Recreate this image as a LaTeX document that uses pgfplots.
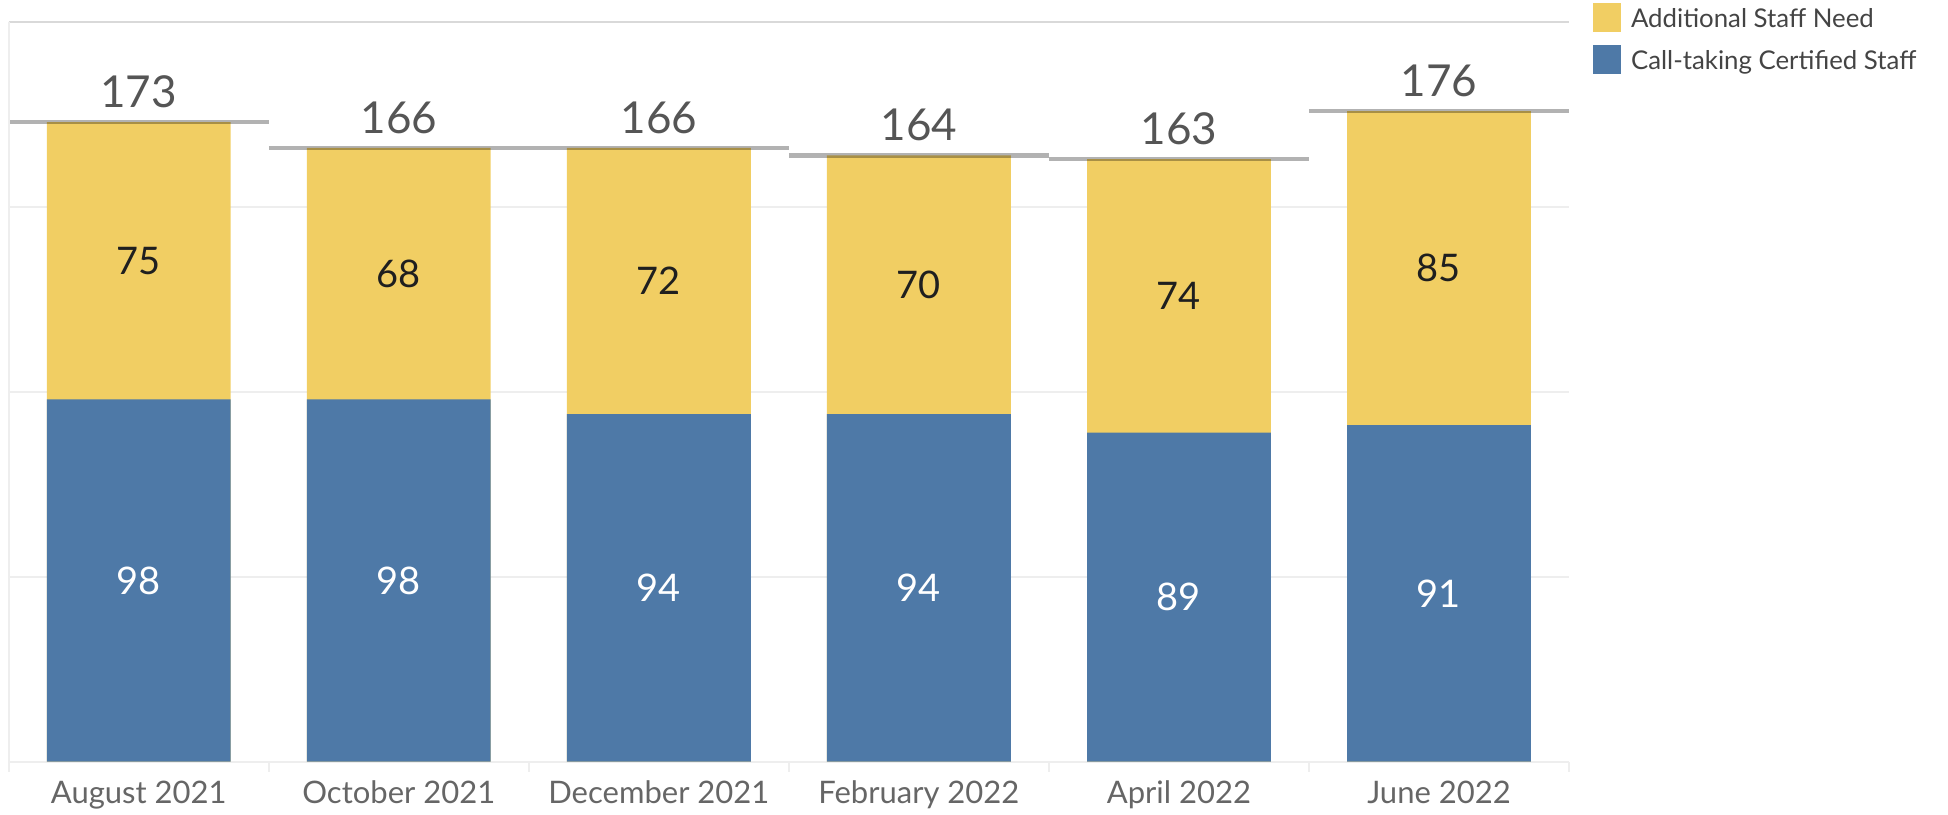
\documentclass[border=0pt]{standalone}
\usepackage{fontspec}
\setmainfont{Lato}
\usepackage{pgfplots}
\usepackage{pgfplotstable}
\pgfplotsset{compat=1.18}
\definecolor{tblue}{HTML}{4E79A7}
\definecolor{tyellow}{HTML}{F1CE63}
\definecolor{lblgray}{HTML}{555555}
\definecolor{tickgray}{HTML}{666666}
\definecolor{legtext}{HTML}{444444}
\definecolor{gridgray}{HTML}{EEEEEE}
\definecolor{topgray}{HTML}{D9D9D9}
\pgfplotsset{sqlegend/.style={legend image code/.code={\path[##1] (0pt,-2.45pt) rectangle (14pt,12.05pt);}}}

\pgfplotstableread{
x blue yellow total
0 98 75 173
1 98 68 166
2 94 72 166
3 94 70 164
4 89 74 163
5 91 85 176
}\datatable

\begin{document}
\begin{tikzpicture}
\path[use as bounding box] (0,0) rectangle (974pt,407pt);
\begin{axis}[
  at={(4.35pt,26.25pt)}, anchor=south west,
  scale only axis, width=780.15pt, height=369.6pt,
  xmin=-0.5, xmax=5.5, ymin=0, ymax=200,
  axis line style={draw=none},
  ytick={0,50,100,150,200}, yticklabels={},
  ymajorgrids, major grid style={gridgray, line width=1pt},
  xtick={0,...,5},
  xticklabels={August 2021, October 2021, December 2021, February 2022, April 2022, June 2022},
  minor xtick={-0.5,0.5,...,5.5},
  major tick length=0pt, minor tick length=5pt,
  minor tick style={draw=gridgray, line width=1pt},
  xtick align=outside, xtick pos=bottom, ytick pos=left,
  xticklabel style={font=\fontsize{15.5}{18}\selectfont, text=tickgray, anchor=base, inner sep=0pt, yshift=-20.75pt},
  clip=false,
  legend style={at={(1.01538,1.02611)}, anchor=north west, draw=none, fill=none,
    inner sep=0pt, outer sep=0pt, row sep=5.5pt, column sep=3pt,
    font=\fontsize{12.9}{16}\selectfont, text=legtext, cells={anchor=base west}},
]
% yellow: full stack height (blue + additional), blue drawn over it
\addplot[ybar, bar width=0.707, bar shift=0pt, fill=tyellow, draw=none, sqlegend]
  table[x=x, y expr=\thisrow{blue}+\thisrow{yellow}] {\datatable};
\addlegendentry{Additional Staff Need}
\addplot[ybar, bar width=0.707, bar shift=0pt, fill=tblue, draw=none, sqlegend]
  table[x=x, y=blue] {\datatable};
\addlegendentry{Call-taking Certified Staff}

% total reference lines
\addplot[sharp plot, mark=none, draw=black, draw opacity=0.3, line width=2.35pt,
  unbounded coords=jump, forget plot] coordinates {
  (-0.5,173) (0.5,173) (0.5,nan)
  (0.5,166) (1.5,166) (1.5,nan)
  (1.5,166) (2.5,166) (2.5,nan)
  (2.5,164) (3.5,164) (3.5,nan)
  (3.5,163) (4.5,163) (4.5,nan)
  (4.5,176) (5.5,176)
};

% segment labels
\addplot[sharp plot, mark=none, draw=none, forget plot,
  nodes near coords, point meta=explicit symbolic,
  every node near coord/.append style={anchor=center, font=\fontsize{19}{22}\selectfont, text=white}]
  table[x=x, y expr=\thisrow{blue}/2, meta=blue] {\datatable};
\addplot[sharp plot, mark=none, draw=none, forget plot,
  nodes near coords, point meta=explicit symbolic,
  every node near coord/.append style={anchor=center, font=\fontsize{19}{22}\selectfont, text=black!88}]
  table[x=x, y expr=\thisrow{blue}+\thisrow{yellow}/2, meta=yellow] {\datatable};
\addplot[sharp plot, mark=none, draw=none, forget plot,
  nodes near coords, point meta=explicit symbolic,
  every node near coord/.append style={anchor=center, yshift=15pt, font=\fontsize{22}{26}\selectfont, text=lblgray}]
  table[x=x, y=total, meta=total] {\datatable};

\draw[topgray, line width=1pt] (rel axis cs:0,1) -- (rel axis cs:1,1);
\draw[gridgray, line width=1pt] (rel axis cs:0,0) -- (rel axis cs:0,1);
\end{axis}
\end{tikzpicture}
\end{document}
